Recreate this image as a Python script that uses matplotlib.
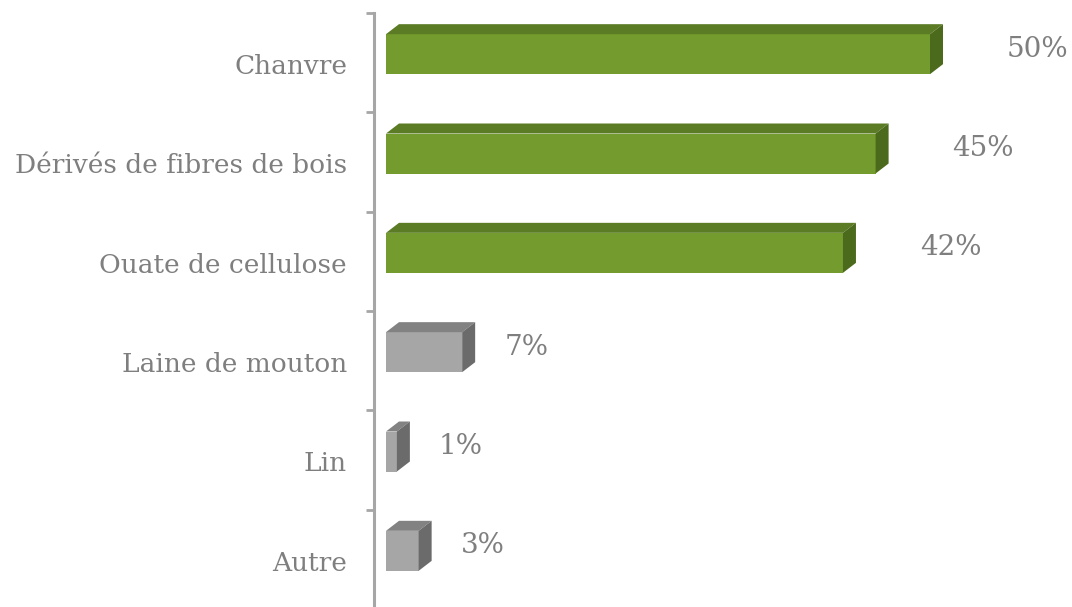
import matplotlib
matplotlib.use("Agg")
import matplotlib.pyplot as plt
from matplotlib.patches import Polygon

categories = ["Chanvre", "Dérivés de fibres de bois", "Ouate de cellulose",
              "Laine de mouton", "Lin", "Autre"]
values = [50, 45, 42, 7, 1, 3]
labels = ["50%", "45%", "42%", "7%", "1%", "3%"]
highlight = [True, True, True, False, False, False]

GREEN = ("#739b2e", "#5b7b25", "#4c6a1c")   # front, top, side
GREY = ("#a6a6a6", "#828282", "#6b6b6b")
TEXT = "#7f7f7f"
AXIS = "#a6a6a6"


def main():
    W, H = 1072, 607
    fig = plt.figure(figsize=(W / 100, H / 100), dpi=100)
    ax_left, ax_top, ax_bottom = 374, 13, 609
    ax = fig.add_axes([ax_left / W, (H - ax_bottom) / H,
                       (W - ax_left) / W, (ax_bottom - ax_top) / H])

    n = len(categories)
    px_per_x = 10.88
    x0 = -(386 - ax_left) / px_per_x
    x1 = x0 + (W - ax_left) / px_per_x
    ax.set_xlim(x0, x1)
    ax.set_ylim(n - 0.5, -0.5)
    px_per_y = (ax_bottom - ax_top) / n

    dx = 13 / px_per_x
    dy = 10 / px_per_y
    hgt = 40 / px_per_y
    shift = -8.5 / px_per_y

    for i, (v, lab, hl) in enumerate(zip(values, labels, highlight)):
        front, top, side = GREEN if hl else GREY
        yc = i + shift
        yt, yb = yc - hgt / 2, yc + hgt / 2
        ax.add_patch(Polygon([(0, yt), (v, yt), (v, yb), (0, yb)],
                             closed=True, fc=front, ec="none", zorder=3))
        ax.add_patch(Polygon([(0, yt), (v, yt), (v + dx, yt - dy), (dx, yt - dy)],
                             closed=True, fc=top, ec="none", zorder=3))
        ax.add_patch(Polygon([(v, yt), (v + dx, yt - dy), (v + dx, yb - dy), (v, yb)],
                             closed=True, fc=side, ec="none", zorder=3))
        gap = 64 if v > 20 else 29
        ax.text(v + dx + gap / px_per_x, yc - dy / 2, lab, ha="left", va="center",
                color=TEXT, fontsize=20, family="DejaVu Serif")

    # category labels
    for i, c in enumerate(categories):
        ax.text(-(ax_left - 347) / px_per_x + x0, i + 0.04, c, ha="right",
                va="center", color=TEXT, fontsize=19, family="DejaVu Serif",
                clip_on=False)

    for s in ["top", "right", "bottom"]:
        ax.spines[s].set_visible(False)
    ax.spines["left"].set_color(AXIS)
    ax.spines["left"].set_linewidth(2.2)
    ax.set_xticks([])
    ax.set_yticks([k - 0.5 for k in range(n)])
    ax.set_yticklabels([])
    ax.tick_params(axis="y", length=6, width=2, color=AXIS, direction="out")
    ax.patch.set_alpha(0)

    fig.savefig("out.png", dpi=100)


if __name__ == "__main__":
    main()
